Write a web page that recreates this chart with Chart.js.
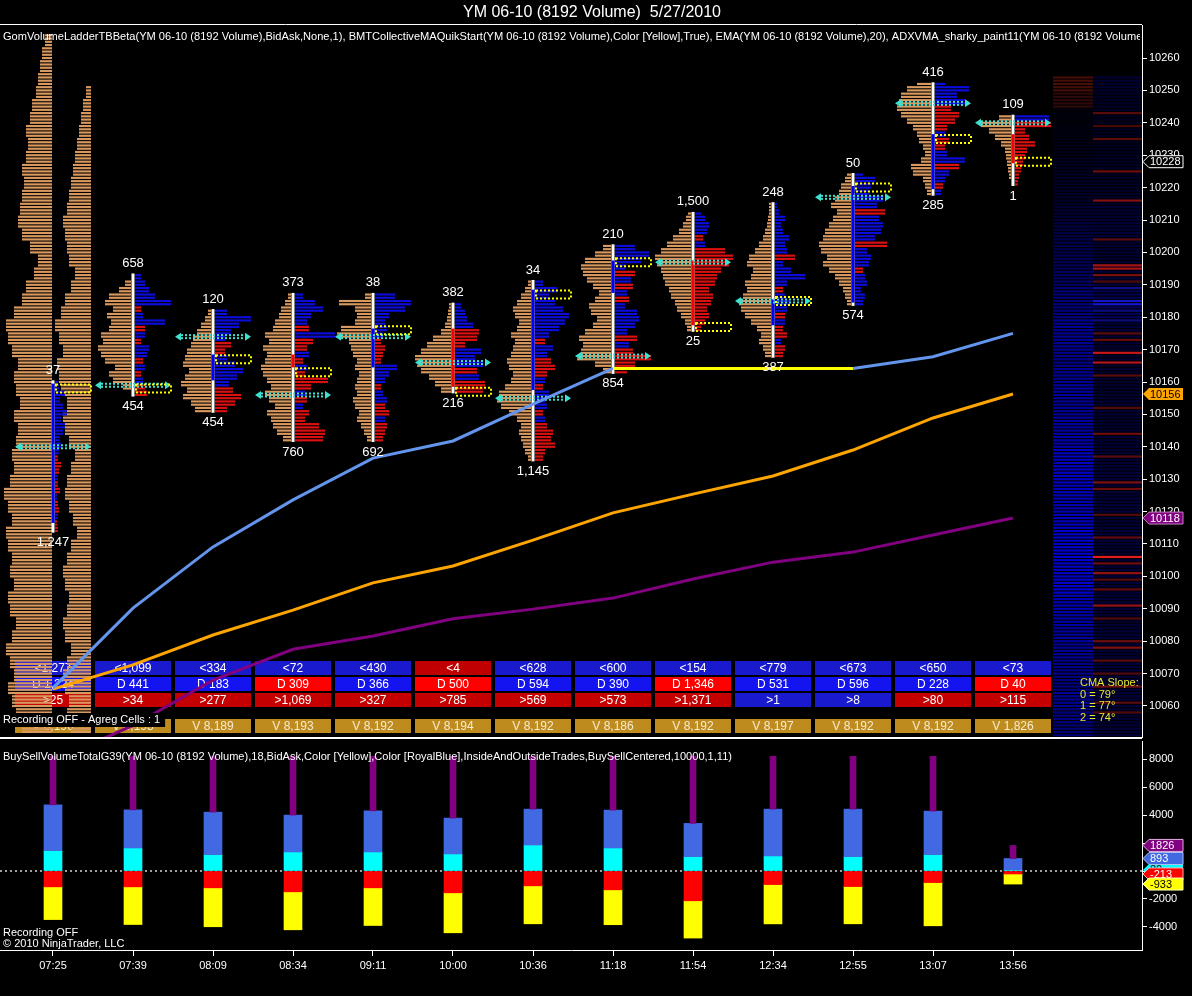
<!DOCTYPE html>
<html>
<head>
<meta charset="utf-8">
<title>YM 06-10 (8192 Volume) 5/27/2010</title>
<script src="https://cdn.jsdelivr.net/npm/chart.js@4.4.1/dist/chart.umd.min.js"></script>
<style>
  html, body { margin:0; padding:0; background:#000; }
  #wrap { position:relative; width:1192px; height:996px; background:#000; overflow:hidden; }
  #wrap canvas { position:absolute; left:0; }
  #main { top:0; }
  #lower { top:740px; }
</style>
</head>
<body>
<div id="wrap">
  <canvas id="main" width="1192" height="740"></canvas>
  <canvas id="lower" width="1192" height="256"></canvas>
</div>
<script>
const FONT = '"Liberation Sans", Arial, Helvetica, sans-serif';

// ---------- bar data ----------
const barTimes = ['07:25','07:39','08:09','08:34','09:11','10:00','10:36','11:18','11:54','12:34','12:55','13:07','13:56'];
const barHigh  = [10160,10193,10182,10187,10187,10184,10191,10202,10212,10215,10224,10252,10242];
const barLow   = [10114,10156,10151,10142,10142,10157,10136,10163,10176,10168,10184,10218,10221];
const barOpen  = [10117,10159,10161,10168,10165,10176,10158,10188,10197,10178,10185,10220,10236];
const barClose = [10159,10159,10168,10165,10176,10159,10188,10197,10178,10185,10220,10236,10228];
const highLabels = ['37','658','120','373','38','382','34','210','1,500','248','50','416','109'];
const lowLabels  = ['1,247','454','454','760','692','216','1,145','854','25','387','574','285','1'];
const pocPrice = [10140,10159,10174,10156,10174,10166,10155,10168,10197,10185,10217,10246,10240];
const boxPrice = [10158,10158,10167,10163,10176,10157,10187,10197,10177,10185,10220,10235,10228];

// bid (left, tan) volume per 2-tick band starting at barLow
const bidProfiles = [
 [],
 [0,16,36,44,32,52,60,66,56,60,44,40,48,36,52,44,24,12,0],
 [32,40,56,48,60,52,44,56,52,48,40,36,28,20,12,6],
 [16,28,36,40,48,32,44,52,40,48,56,60,52,48,56,44,52,36,32,24,20,12,6],
 [8,14,20,28,24,32,36,28,32,28,24,32,28,36,40,44,68,60,32,28,32,64,12],
 [20,32,44,60,68,72,60,48,36,20,12,8,6,4],
 [6,12,16,20,24,20,28,44,60,68,64,52,40,36,44,48,40,36,32,40,28,24,32,36,28,20,12,6],
 [16,32,68,60,56,64,52,36,28,40,44,32,24,36,48,56,60,52,32,16],
 [8,12,20,28,32,40,44,52,56,60,68,72,60,48,36,24,16,10,6],
 [12,16,24,20,28,40,52,60,64,56,48,52,40,36,48,44,32,24,16,12,8,6,4,4],
 [8,12,16,24,32,44,56,48,60,64,56,52,44,36,28,40,32,24,20,12,8],
 [8,12,16,36,40,20,12,16,24,28,36,48,60,68,64,60,48,28],
 [0,4,6,8,10,12,20,32,44,60,24]
];
// ask (right) volume per 2-tick band, sign = buyer(+) / seller(-) dominance
const askProfiles = [
 [-6,-4,6,-8,-6,4,-10,-6,6,-8,-12,-6,8,12,10,16,20,12,24,16,10,20,8,6],
 [-24,-20,16,-12,20,-16,24,28,-12,20,-20,60,16,-12,72,40,28,20,12],
 [-24,-40,-52,-36,28,44,56,40,24,-20,-32,20,32,48,72,24],
 [-56,-60,-48,-20,-28,16,-24,20,-32,-66,-20,24,-16,28,-24,-36,80,-28,24,32,56,40,16],
 [-16,-20,-24,20,-28,-20,24,16,-12,20,28,44,-12,-16,-20,-12,16,24,20,28,60,72,40],
 [-56,-60,48,-44,56,40,52,-20,-44,-48,36,24,20,12],
 [-16,-20,-40,-32,-36,-24,20,-16,24,20,28,-16,20,-24,-40,-32,24,36,-20,28,48,60,68,56,40,28,44,16],
 [-24,-40,-72,-36,28,-44,24,40,48,44,20,-28,24,-36,32,-40,20,52,68,40],
 [-12,-20,-28,-24,-32,-36,-28,-40,-44,-52,-68,-76,-60,20,-16,24,28,20,12],
 [-16,-20,12,-24,-16,20,-20,24,28,20,-16,24,60,32,16,-40,24,20,28,16,12,20,8,4],
 [16,20,12,24,20,-16,28,32,24,-64,40,52,56,48,-60,44,56,28,32,40,16],
 [12,-16,20,28,-48,60,24,-20,-28,20,-24,-40,-48,-32,60,44,68,20],
 [-6,-8,-12,-16,-20,-24,-40,-28,-20,-72,68]
];
// session composite profiles (4-tick bands from sessionStart)
const sessionStart = 10052;
const sessionProfileA = [60,72,80,88,76,84,92,80,72,84,88,76,84,80,88,92,80,88,96,84,76,80,72,68,76,64,72,76,68,80,88,92,76,60,52,36,28,44,60,68,64,60,56,60,52,48,52,44,40,32,28,24,20,14];
const sessionProfileB = [40,48,44,52,56,48,40,52,56,48,44,52,56,48,40,28,36,44,52,48,40,32,44,52,56,48,60,64,68,56,64,72,60,52,40,32,44,48,52,56,48,44,40,36,32,28,24,20,16,10];

// moving averages
const cmaValues    = [10065.6,10090.2,10109.1,10123.6,10136.5,10141.8,10153.2,10164.2,10164.2,10164.2,10164.2,10167.8,10175.0];
const emaValues    = [10065.2,10072.7,10081.9,10089.6,10098.0,10103.2,10111.2,10119.6,10125.4,10131.0,10139.0,10148.9,10156.3];
const adxvmaValues = [10043,10054,10068,10077.5,10081.6,10086.9,10089.9,10093.3,10099.2,10104.4,10107.5,10112.8,10118.0];

const priceTicks = [10060,10070,10080,10090,10100,10110,10120,10130,10140,10150,10160,10170,10180,10190,10200,10210,10220,10230,10240,10250,10260];

// table rows
const tableSellVol = [1277,1099,334,72,430,4,628,600,154,779,673,650,73];
const tableSellRed = [0,0,0,0,0,1,0,0,0,0,0,0,0];
const tableDelta   = [1224,441,183,-309,366,-500,594,390,-1346,531,596,228,-40];
const tableBuyVol  = [25,34,277,1069,327,785,569,573,1371,1,8,80,115];
const tableBuyBlue = [0,0,0,0,0,0,0,0,0,1,1,0,0];
const barVolume    = [8196,8193,8189,8193,8192,8194,8192,8186,8192,8197,8192,8192,1826];

// lower panel
const buyVol     = [4726,4370,4206,3993,4299,3779,4420,4349,3402,4420,4420,4278,893];
const sellVol    = [3470,3823,3983,4200,3893,4415,3772,3837,4790,3777,3772,3914,933];
const insideBuy  = [1452,1644,1167,1359,1359,1217,1858,1644,1025,1074,1025,1167,80];
const insideSell = [1132,1132,1203,1488,1203,1559,1061,1345,2128,968,1110,826,213];
const volTicks   = [-4000,-2000,0,2000,4000,6000,8000];
const volTicksUnderTags = [0,2000];

// right-side heat map (5-tick bands from heatStart)
const heatStart = 10050;
const heatLeftBlue  = [120,130,150,130,140,150,160,170,180,210,200,210,200,190,180,190,200,190,170,160,150,160,150,140,150,150,130,120,100,90,80,70,55,45,40,35,25,20,15,10,8];
const heatLeftRed   = [0,0,0,0,0,0,0,0,0,0,0,0,0,0,0,0,0,0,0,0,0,0,0,0,0,0,0,0,0,0,0,0,0,0,0,0,0,0,0,45,70];
const heatRightBlue = [60,55,60,55,60,55,60,55,60,55,60,55,60,55,60,55,60,55,55,50,55,50,50,50,55,60,90,80,60,50,55,60,55,45,40,40,35,35,35,40,50];
const heatRightRed  = [[10243,90],[10239,70],[10235,90],[10225,110],[10216,130],[10204,90],[10196,170],[10195,170],[10193,120],[10191,80],[10175,90],[10173,100],[10169,200],[10166,180],[10162,90],[10152,80],[10144,110],[10137,90],[10129,130],[10127,110],[10119,80],[10112,100],[10106,230],[10104,110],[10101,150],[10099,90],[10096,100],[10091,150],[10087,80],[10080,110],[10078,130],[10074,90],[10070,80],[10066,110],[10061,90],[10058,80]];
const heatRightBlueHi = [[10189,140],[10185,200],[10184,200],[10182,120],[10179,120]];

// ---------- styling ----------
const X_MIN = -0.6625, X_MAX = 13.6125;
const PRICE_MIN = 10050.43, PRICE_MAX = 10270.19;
const VOL_MIN = -5643, VOL_MAX = 9286;
const PX_PER_CONTRACT = 0.5;
const TAN = '#D9985E', ASK_BLUE = '#0C0CDC', ASK_RED = '#DC1010', CYAN = '#40E0D0';
const fmt = v => Math.abs(v).toLocaleString('en-US');

Chart.defaults.font.family = FONT;
Chart.defaults.font.size = 11;
Chart.defaults.color = '#fff';

function tag(ctx, x, y, text, fill, fg, stroke) {
  const h = 12, w = 40, tip = 6;
  ctx.save();
  ctx.beginPath();
  ctx.moveTo(x, y); ctx.lineTo(x + tip, y - h / 2); ctx.lineTo(x + w, y - h / 2);
  ctx.lineTo(x + w, y + h / 2); ctx.lineTo(x + tip, y + h / 2); ctx.closePath();
  ctx.fillStyle = fill; ctx.fill();
  if (stroke) { ctx.strokeStyle = stroke; ctx.lineWidth = 1; ctx.stroke(); }
  ctx.fillStyle = fg; ctx.font = '11px ' + FONT; ctx.textAlign = 'left'; ctx.textBaseline = 'middle';
  ctx.fillText(text, x + tip + 1, y + 0.5);
  ctx.restore();
}

function fitText(ctx, text, x, y, width) {
  const w = ctx.measureText(text).width;
  ctx.save();
  ctx.translate(x, y);
  ctx.scale(width / w, 1);
  ctx.fillText(text, 0, 0);
  ctx.restore();
}

function fixV(s) { s.width = 50; s.paddingTop = 0; s.paddingBottom = 0; }

const ladderPlugin = {
  id: 'ladder',
  beforeDatasetsDraw(chart) {
    const { ctx, chartArea: ca } = chart;
    const xs = chart.scales.x, ys = chart.scales.y;
    const lvl = Math.abs(ys.getPixelForValue(10100) - ys.getPixelForValue(10101));
    const rh = Math.max(1, lvl - 1.1);
    const slot = xs.getPixelForValue(1) - xs.getPixelForValue(0);
    const half = slot * 0.475;
    ctx.save();
    ctx.beginPath(); ctx.rect(ca.left, ca.top, ca.right - ca.left, ca.bottom - ca.top); ctx.clip();

    // heat map columns
    const hx0 = xs.getPixelForValue(12.5), hx1 = xs.getPixelForValue(13), hx2 = ca.right;
    heatLeftBlue.forEach((b, k) => {
      for (let j = 0; j < 5; j++) {
        const y = ys.getPixelForValue(heatStart + k * 5 + j);
        const r = heatLeftRed[k];
        ctx.fillStyle = `rgb(${r},${Math.round(r * 0.2)},${b})`;
        ctx.fillRect(hx0, y - rh / 2, hx1 - hx0, rh);
        ctx.fillStyle = `rgb(0,0,${heatRightBlue[k]})`;
        ctx.fillRect(hx1, y - rh / 2, hx2 - hx1, rh);
      }
    });
    heatRightRed.forEach(([p, v]) => {
      const y = ys.getPixelForValue(p);
      ctx.fillStyle = `rgb(${v},${Math.round(v * 0.12)},${Math.round(v * 0.12)})`;
      ctx.fillRect(hx1, y - rh / 2, hx2 - hx1, rh);
    });
    heatRightBlueHi.forEach(([p, v]) => {
      const y = ys.getPixelForValue(p);
      ctx.fillStyle = `rgb(${Math.round(v * 0.1)},${Math.round(v * 0.1)},${v})`;
      ctx.fillRect(hx1, y - rh / 2, hx2 - hx1, rh);
    });

    // statistics table
    const rows = [
      { off: 76, txt: tableSellVol.map(v => '<' + fmt(v)), col: tableSellRed.map(f => f ? '#C00000' : '#1919CD'), fg: '#fff' },
      { off: 60, txt: tableDelta.map(v => 'D ' + fmt(v)), col: tableDelta.map(v => v < 0 ? '#FF0000' : '#1414F0'), fg: '#fff' },
      { off: 44, txt: tableBuyVol.map(v => '>' + fmt(v)), col: tableBuyBlue.map(f => f ? '#1919CD' : '#C40000'), fg: '#fff' },
      { off: 18, txt: barVolume.map(v => 'V ' + fmt(v)), col: barVolume.map(() => '#BE8C1E'), fg: '#F8EBD0' }
    ];
    ctx.font = '12px ' + FONT; ctx.textAlign = 'center'; ctx.textBaseline = 'middle';
    rows.forEach(r => {
      const top = ca.bottom - r.off;
      r.txt.forEach((t, i) => {
        const X = xs.getPixelForValue(i);
        ctx.fillStyle = r.col[i];
        ctx.fillRect(X - half, top, half * 2, 14);
        ctx.fillStyle = r.fg;
        ctx.fillText(t, X, top + 7.5);
      });
    });

    // session composite profiles at first bar
    const X0 = xs.getPixelForValue(0);
    ctx.fillStyle = TAN;
    sessionProfileA.forEach((v, k) => {
      for (let j = 0; j < 4; j++) {
        const y = ys.getPixelForValue(sessionStart + k * 4 + j);
        const w = v * PX_PER_CONTRACT;
        ctx.fillRect(X0 - 1 - w, y - rh / 2, w, rh);
      }
    });
    sessionProfileB.forEach((v, k) => {
      for (let j = 0; j < 4; j++) {
        const y = ys.getPixelForValue(sessionStart + k * 4 + j);
        const w = v * PX_PER_CONTRACT;
        ctx.fillRect(X0 + half - w, y - rh / 2, w, rh);
      }
    });

    // per-bar ladders
    barTimes.forEach((t, i) => {
      const X = xs.getPixelForValue(i);
      bidProfiles[i].forEach((v, k) => {
        for (let j = 0; j < 2; j++) {
          const p = barLow[i] + k * 2 + j;
          if (p > barHigh[i] || v <= 0) continue;
          const y = ys.getPixelForValue(p), w = v * PX_PER_CONTRACT;
          ctx.fillStyle = TAN;
          ctx.fillRect(X - 2 - w, y - rh / 2, w, rh);
        }
      });
      askProfiles[i].forEach((v, k) => {
        for (let j = 0; j < 2; j++) {
          const p = barLow[i] + k * 2 + j;
          if (p > barHigh[i] || v === 0) continue;
          const y = ys.getPixelForValue(p), w = Math.abs(v) * PX_PER_CONTRACT;
          ctx.fillStyle = v > 0 ? ASK_BLUE : ASK_RED;
          ctx.fillRect(X + 2, y - rh / 2, w, rh);
        }
      });
      // candle
      const yH = ys.getPixelForValue(barHigh[i]) - lvl / 2, yL = ys.getPixelForValue(barLow[i]) + lvl / 2;
      ctx.fillStyle = '#fff';
      ctx.fillRect(X - 1.5, yH, 3, yL - yH);
      if (barOpen[i] !== barClose[i]) {
        const a = ys.getPixelForValue(Math.max(barOpen[i], barClose[i])) - lvl / 2;
        const b = ys.getPixelForValue(Math.min(barOpen[i], barClose[i])) + lvl / 2;
        ctx.fillStyle = barClose[i] > barOpen[i] ? '#0000FF' : '#FF0000';
        ctx.fillRect(X - 1.5, a, 3, b - a);
      }
      // POC arrow
      const yp = ys.getPixelForValue(pocPrice[i]);
      ctx.strokeStyle = CYAN; ctx.fillStyle = CYAN; ctx.lineWidth = 2; ctx.setLineDash([2, 2]);
      [-1.5, 1.5].forEach(d => {
        ctx.beginPath(); ctx.moveTo(X - half + 6, yp + d); ctx.lineTo(X + half - 6, yp + d); ctx.stroke();
      });
      ctx.setLineDash([]);
      ctx.beginPath(); ctx.moveTo(X - half, yp); ctx.lineTo(X - half + 6, yp - 4); ctx.lineTo(X - half + 6, yp + 4); ctx.closePath(); ctx.fill();
      ctx.beginPath(); ctx.moveTo(X + half, yp); ctx.lineTo(X + half - 6, yp - 4); ctx.lineTo(X + half - 6, yp + 4); ctx.closePath(); ctx.fill();
      // value box
      const yb = ys.getPixelForValue(boxPrice[i]);
      ctx.strokeStyle = '#FFFF00'; ctx.lineWidth = 2; ctx.setLineDash([2, 2]);
      ctx.strokeRect(X + 3, yb - 4, half - 3, 8);
      ctx.setLineDash([]);
    });
    ctx.restore();
  },
  afterDatasetsDraw(chart) {
    const { ctx, chartArea: ca } = chart;
    const xs = chart.scales.x, ys = chart.scales.y;
    const lvl = Math.abs(ys.getPixelForValue(10100) - ys.getPixelForValue(10101));
    ctx.save();
    // high / low labels
    ctx.font = '13px ' + FONT; ctx.fillStyle = '#fff'; ctx.textAlign = 'center'; ctx.textBaseline = 'middle';
    barTimes.forEach((t, i) => {
      const X = xs.getPixelForValue(i);
      ctx.fillText(highLabels[i], X, ys.getPixelForValue(barHigh[i]) - lvl / 2 - 10);
      ctx.fillText(lowLabels[i], X, ys.getPixelForValue(barLow[i]) + lvl / 2 + 10);
    });
    // recording label
    ctx.font = '11px ' + FONT; ctx.textAlign = 'left';
    const rec = 'Recording OFF - Agreg Cells : 1';
    const rw = ctx.measureText(rec).width;
    ctx.fillStyle = '#000'; ctx.fillRect(ca.left, ca.bottom - 24, rw + 8, 14);
    ctx.fillStyle = '#fff'; ctx.fillText(rec, ca.left + 3, ca.bottom - 17);
    // CMA slope
    ctx.fillStyle = '#E8E830';
    ['CMA Slope:', '0 = 79°', '1 = 77°', '2 = 74°'].forEach((s, k) => {
      ctx.fillText(s, ca.right - 62, ca.bottom - 54 + k * 11.7);
    });
    // header indicator text
    ctx.save();
    ctx.beginPath(); ctx.rect(0, ca.top, ca.right - 2, 30); ctx.clip();
    ctx.fillStyle = '#fff';
    fitText(ctx, 'GomVolumeLadderTBBeta(YM 06-10 (8192 Volume),BidAsk,None,1), BMTCollectiveMAQuikStart(YM 06-10 (8192 Volume),Color [Yellow],True), EMA(YM 06-10 (8192 Volume),20), ADXVMA_sharky_paint11(YM 06-10 (8192 Volume)', 3, ca.top + 12, 1143);
    ctx.restore();
    // title
    ctx.font = '16px ' + FONT; ctx.fillStyle = '#fff'; ctx.textAlign = 'center';
    ctx.fillText('YM 06-10 (8192 Volume)  5/27/2010', chart.width / 2 - 4, 13);
    // frame lines
    ctx.strokeStyle = '#fff'; ctx.lineWidth = 1;
    ctx.beginPath(); ctx.moveTo(0, ca.top - 0.5); ctx.lineTo(ca.right, ca.top - 0.5); ctx.stroke();
    ctx.lineWidth = 2;
    ctx.beginPath(); ctx.moveTo(0, ca.bottom + 1); ctx.lineTo(ca.right, ca.bottom + 1); ctx.stroke();
    // price tags
    const tx = ca.right + 1;
    tag(ctx, tx, ys.getPixelForValue(adxvmaValues[12]), String(Math.round(adxvmaValues[12])), '#800080', '#fff', '#C080C0');
    tag(ctx, tx, ys.getPixelForValue(emaValues[12]), String(Math.round(emaValues[12])), '#FFA500', '#000', null);
    tag(ctx, tx, ys.getPixelForValue(barClose[12]), String(barClose[12]), '#000', '#fff', '#fff');
    ctx.restore();
  }
};

const pts = arr => arr.map((v, i) => ({ x: i, y: v }));

new Chart(document.getElementById('main'), {
  type: 'line',
  data: {
    datasets: [
      { label: 'CMA', data: pts(cmaValues), borderColor: '#6495ED', borderWidth: 3, pointRadius: 0,
        segment: { borderColor: c => c.p0.parsed.y === c.p1.parsed.y ? '#FFFF00' : undefined } },
      { label: 'EMA', data: pts(emaValues), borderColor: '#FFA500', borderWidth: 3, pointRadius: 0 },
      { label: 'ADXVMA', data: pts(adxvmaValues), borderColor: '#800080', borderWidth: 3, pointRadius: 0 }
    ]
  },
  options: {
    responsive: false, animation: false, devicePixelRatio: 1,
    layout: { padding: { top: 25, bottom: 3, left: 0, right: 0 } },
    plugins: { legend: { display: false }, tooltip: { enabled: false }, title: { display: false } },
    scales: {
      x: { type: 'linear', min: X_MIN, max: X_MAX, display: false },
      y: {
        position: 'right', min: PRICE_MIN, max: PRICE_MAX,
        afterFit: fixV,
        afterBuildTicks(s) { s.ticks = priceTicks.map(v => ({ value: v })); },
        grid: { drawOnChartArea: false, drawTicks: true, tickLength: 5, color: '#fff' },
        border: { display: true, color: '#fff', width: 1 },
        ticks: { color: '#fff', font: { size: 11 }, padding: 2, callback: v => String(v) }
      }
    }
  },
  plugins: [ladderPlugin]
});

const lowerPlugin = {
  id: 'lowerDeco',
  beforeDatasetsDraw(chart) {
    const { ctx, chartArea: ca } = chart;
    const y0 = chart.scales.y.getPixelForValue(0);
    ctx.save();
    ctx.strokeStyle = '#A0A0A0'; ctx.lineWidth = 2; ctx.setLineDash([2, 3]);
    ctx.beginPath(); ctx.moveTo(ca.left, y0); ctx.lineTo(ca.right, y0); ctx.stroke();
    ctx.restore();
  },
  afterDatasetsDraw(chart) {
    const { ctx, chartArea: ca } = chart;
    const ys = chart.scales.y;
    ctx.save();
    ctx.font = '11px ' + FONT; ctx.fillStyle = '#fff'; ctx.textAlign = 'left'; ctx.textBaseline = 'middle';
    fitText(ctx, 'BuySellVolumeTotalG39(YM 06-10 (8192 Volume),18,BidAsk,Color [Yellow],Color [RoyalBlue],InsideAndOutsideTrades,BuySellCentered,10000,1,11)', 3, ca.top + 16, 729);
    ctx.fillText('Recording OFF', 3, ca.bottom - 17);
    ctx.fillText('\u00A9 2010 NinjaTrader, LLC', 3, ca.bottom - 6);
    const n = barTimes.length - 1, tx = ca.right + 1;
    tag(ctx, tx, ys.getPixelForValue(insideBuy[n]), String(insideBuy[n]), '#00FFFF', '#000', null);
    tag(ctx, tx, ys.getPixelForValue(barVolume[n]), String(barVolume[n]), '#800080', '#fff', '#E0B0E0');
    tag(ctx, tx, ys.getPixelForValue(buyVol[n]), String(buyVol[n]), '#4169E1', '#fff', '#B0C0F0');
    tag(ctx, tx, ys.getPixelForValue(-insideSell[n]), String(-insideSell[n]), '#FF0000', '#fff', '#FFB0B0');
    tag(ctx, tx, ys.getPixelForValue(-sellVol[n]), String(-sellVol[n]), '#FFFF00', '#000', '#FFFFC0');
    ctx.restore();
  }
};

const barDs = (data, color, thick) => ({ data, backgroundColor: color, barThickness: thick, grouped: false, borderWidth: 0 });

new Chart(document.getElementById('lower'), {
  type: 'bar',
  data: {
    datasets: [
      barDs(barVolume.map((v, i) => ({ x: i, y: [buyVol[i], v] })), '#800080', 6),
      barDs(buyVol.map((v, i) => ({ x: i, y: [insideBuy[i], v] })), '#4169E1', 18),
      barDs(insideBuy.map((v, i) => ({ x: i, y: [0, v] })), '#00FFFF', 18),
      barDs(insideSell.map((v, i) => ({ x: i, y: [-v, 0] })), '#FF0000', 18),
      barDs(sellVol.map((v, i) => ({ x: i, y: [-v, -insideSell[i]] })), '#FFFF00', 18)
    ]
  },
  options: {
    responsive: false, animation: false, devicePixelRatio: 1,
    layout: { padding: { top: 1, bottom: 0, left: 0, right: 0 } },
    plugins: { legend: { display: false }, tooltip: { enabled: false } },
    scales: {
      x: {
        type: 'linear', min: X_MIN, max: X_MAX, offset: false,
        afterFit(s) { s.height = 46; s.paddingLeft = 0; s.paddingRight = 0; },
        afterBuildTicks(s) { s.ticks = barTimes.map((t, i) => ({ value: i })); },
        ticks: { callback: v => barTimes[v] !== undefined ? barTimes[v] : '', color: '#fff', font: { size: 11 }, maxRotation: 0, autoSkip: false, padding: 3 },
        grid: { drawOnChartArea: false, tickLength: 6, color: '#fff', offset: false },
        border: { display: true, color: '#fff' }
      },
      y: {
        position: 'right', min: VOL_MIN, max: VOL_MAX,
        afterFit: fixV,
        afterBuildTicks(s) { s.ticks = volTicks.map(v => ({ value: v })); },
        ticks: { color: '#fff', font: { size: 11 }, padding: 2, callback: v => volTicksUnderTags.includes(v) ? '' : String(v) },
        grid: { drawOnChartArea: false, tickLength: 5, color: '#fff' },
        border: { display: true, color: '#fff' }
      }
    }
  },
  plugins: [lowerPlugin]
});
</script>
</body>
</html>
